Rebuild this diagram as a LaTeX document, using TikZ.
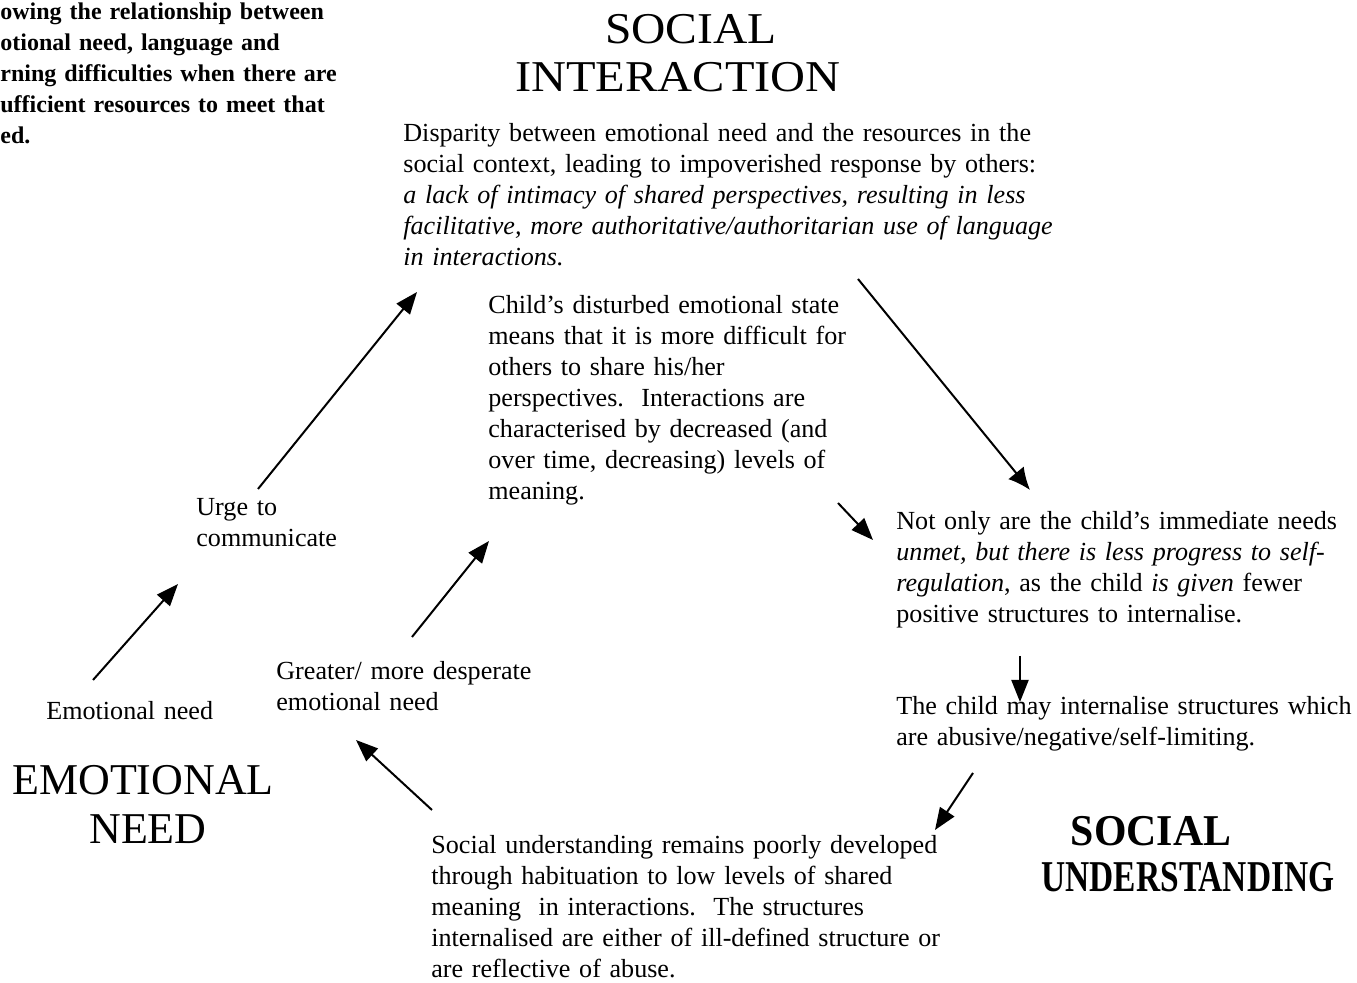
\documentclass[tikz,border=0pt]{standalone}
\usepackage{fontspec}
\setmainfont{Liberation Serif}
\usetikzlibrary{arrows.meta}
\tikzset{
  body/.style={anchor=base west, inner sep=0pt, text width=#1, align=left,
    font=\fontsize{13.05pt}{15.5pt}\selectfont},
  titletext/.style={anchor=base west, inner sep=0pt, text width=200pt, align=left,
    font=\fontsize{12pt}{15.5pt}\selectfont\bfseries},
  header/.style={anchor=base, inner sep=0pt, font=\fontsize{22pt}{26pt}\selectfont},
  conn/.style={-{Triangle[length=11pt,width=8.5pt]}, line width=1pt},
  blob/.style={-{Latex[length=11pt,width=10pt]}, line width=1pt}
}
\begin{document}
\begin{tikzpicture}[x=0.5pt,y=-0.5pt]
\useasboundingbox (0,0) rectangle (1357,983);

% title (clipped at left edge)
\node[titletext] (title) at (0,20) {owing the relationship between\\otional need, language and\\rning difficulties when there are\\ufficient resources to meet that\\ed.};

% headers
\node[header] (hsoc1) at (691,44) {\scalebox{1.08}[1]{SOCIAL}};
\node[header] (hint) at (678,92) {\scalebox{1.1}[1]{INTERACTION}};
\node[header] (hemo) at (143,795) {EMOTIONAL};
\node[header] (hneed) at (148,844) {NEED};
\node[header,font=\fontsize{22pt}{26pt}\selectfont\bfseries] (hsoc2) at (1151,846) {\scalebox{0.95}[1]{SOCIAL}};
\node[header,font=\fontsize{22pt}{26pt}\selectfont\bfseries] (hund) at (1188,892) {\scalebox{0.76}[1]{UNDERSTANDING}};

% text blocks
\node[body=340pt] (disp) at (403,142) {Disparity between emotional need and the resources in the\\
social context, leading to impoverished response by others:\\
\textit{a lack of intimacy of shared perspectives, resulting in less}\\
\textit{facilitative, more authoritative/authoritarian use of language}\\
\textit{in interactions.}};

\node[body=200pt] (child) at (488,314) {Child’s disturbed emotional state\\
means that it is more difficult for\\
others to share his/her\\
perspectives.\ \ Interactions are\\
characterised by decreased (and\\
over time, decreasing) levels of\\
meaning.};

\node[body=100pt] (urge) at (196,516) {Urge to\\communicate};

\node[body=230pt] (notonly) at (896,530) {Not only are the child’s immediate needs\\
\textit{unmet, but there is less progress to self-}\\
\textit{regulation}, as the child \textit{is given} fewer\\
positive structures to internalise.};

\node[body=150pt] (greater) at (276,680) {Greater/ more desperate\\emotional need};

\node[body=100pt] (emo) at (46,720) {Emotional need};

\node[body=230pt] (may) at (896,715) {The child may internalise structures which\\
are abusive/negative/self-limiting.};

\node[body=280pt] (socund) at (431,854) {Social understanding remains poorly developed\\
through habituation to low levels of shared\\
meaning\ \ in interactions.\ \ The structures\\
internalised are either of ill-defined structure or\\
are reflective of abuse.};

% connector end points
\coordinate (a1s) at (93,680);   \coordinate (a1e) at (178,584);
\coordinate (a2s) at (258,489);  \coordinate (a2e) at (417,292);
\coordinate (a3s) at (858,279);  \coordinate (a3e) at (1030,490);
\coordinate (a4s) at (838,503);  \coordinate (a4e) at (873,540);
\coordinate (a5s) at (412,637);  \coordinate (a5e) at (489,541);
\coordinate (a6s) at (1020,656); \coordinate (a6e) at (1020,702);
\coordinate (a7s) at (973,773);  \coordinate (a7e) at (935,830);
\coordinate (a8s) at (432,810);  \coordinate (a8e) at (356,740);

\draw[conn] (a1s) -- (a1e);
\draw[conn] (a2s) -- (a2e);
\draw[blob] (a3s) -- (a3e);
\draw[conn] (a4s) -- (a4e);
\draw[conn] (a5s) -- (a5e);
\draw[conn] (a6s) -- (a6e);
\draw[conn] (a7s) -- (a7e);
\draw[conn] (a8s) -- (a8e);
\end{tikzpicture}
\end{document}
